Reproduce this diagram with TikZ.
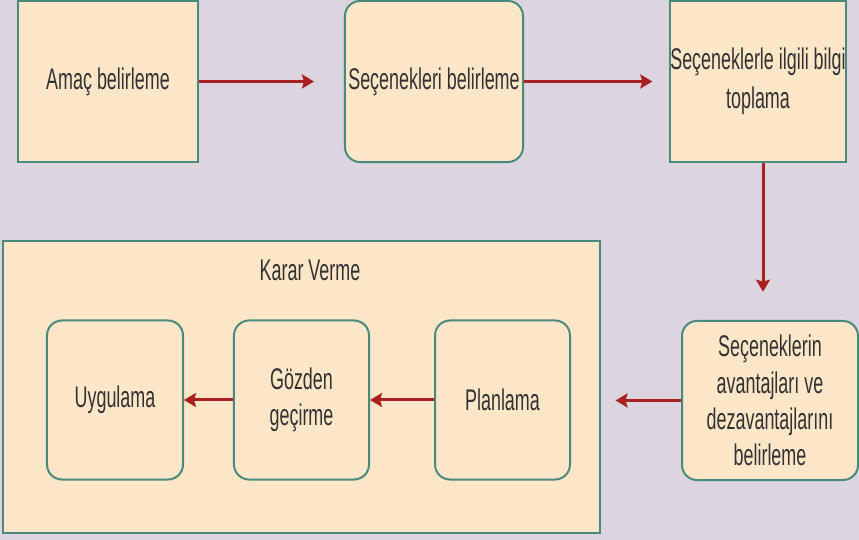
\documentclass[tikz,border=0pt]{standalone}
\usepackage{fontspec}
\setmainfont[FakeStretch=0.6]{Liberation Sans}
\usetikzlibrary{arrows.meta}

\definecolor{backdrop}{RGB}{220,212,222}
\definecolor{boxfill}{RGB}{252,230,200}
\definecolor{boxline}{RGB}{74,138,126}
\definecolor{flowred}{RGB}{168,32,32}
\definecolor{inktext}{RGB}{50,50,50}

\tikzset{
  stage/.style={draw=boxline, line width=0.06cm, fill=boxfill, text=inktext,
    align=center, inner sep=0pt, font=\fontsize{25.5}{31}\selectfont},
  sharpbox/.style={stage, rectangle},
  roundbox/.style={stage, rounded corners=0.45cm},
  flow/.style={draw=flowred, line width=0.09cm,
    -{Stealth[length=0.36cm,width=0.42cm,inset=0.06cm]}},
}

\begin{document}
\begin{tikzpicture}[x=0.03cm, y=-0.03cm]
            \useasboundingbox[fill=backdrop] (0,0) rectangle (859,540);

            \node[sharpbox, minimum width=5.4cm, minimum height=4.83cm] (amac) at (108,81.5) {Amaç belirleme};
            \node[roundbox, minimum width=5.34cm, minimum height=4.83cm] (secenek) at (434,81.5) {Seçenekleri belirleme};
            \node[sharpbox, minimum width=5.28cm, minimum height=4.83cm] (bilgi) at (758,81.5) {Seçeneklerle ilgili bilgi\\[0.08cm]toplama};
            \node[roundbox, minimum width=5.28cm, minimum height=4.77cm] (avantaj) at (770,400.5) {Seçeneklerin\\avantajları ve\\dezavantajlarını\\belirleme};

            \node[sharpbox, minimum width=17.88cm, minimum height=8.76cm] (karar) at (301.5,387) {};
            \node[text=inktext, font=\fontsize{25.5}{31}\selectfont] (kararlabel) at (310,270) {Karar Verme};
            \node[roundbox, minimum width=4.08cm, minimum height=4.77cm] (uygulama) at (115,400) {Uygulama};
            \node[roundbox, minimum width=4.05cm, minimum height=4.77cm] (gozden) at (301.5,400) {Gözden\\geçirme};
            \node[roundbox, minimum width=4.05cm, minimum height=4.77cm] (planlama) at (502.5,400) {Planlama};

            \draw[flow, shorten >=0.9cm] (amac) -- (secenek);
            \draw[flow, shorten >=0.5cm] (secenek) -- (bilgi);
            \draw[flow, shorten >=0.85cm] ([xshift=0.15cm]bilgi.south) -- ([xshift=0.15cm]bilgi.south |- avantaj.north);
            \draw[flow, shorten >=0.45cm] (avantaj.west) -- (avantaj.west -| karar.east);
            \draw[flow] (planlama) -- (gozden);
            \draw[flow] (gozden) -- (uygulama);
        \end{tikzpicture}
\end{document}
